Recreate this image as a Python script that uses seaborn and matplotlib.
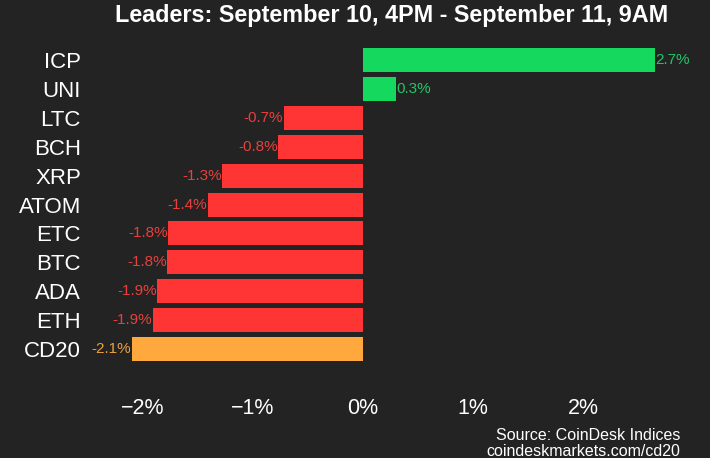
import matplotlib
matplotlib.use("Agg")
import matplotlib.pyplot as plt
import seaborn as sns
import pandas as pd

coins = ["ICP", "UNI", "LTC", "BCH", "XRP", "ATOM", "ETC", "BTC", "ADA", "ETH", "CD20"]
change = [2.65, 0.3, -0.72, -0.77, -1.28, -1.41, -1.77, -1.78, -1.87, -1.91, -2.1]
labels = ["2.7%", "0.3%", "-0.7%", "-0.8%", "-1.3%", "-1.4%", "-1.8%", "-1.8%", "-1.9%", "-1.9%", "-2.1%"]
ticks = [-2, -1, 0, 1, 2]
tick_labels = ["\u22122%", "\u22121%", "0%", "1%", "2%"]

bg = "#232323"
green, red, orange = "#14d95e", "#ff3535", "#ffa83d"
green_txt, red_txt, orange_txt = "#22c466", "#e8403c", "#eaa040"

df = pd.DataFrame({"coin": coins, "change": change, "label": labels})
df["kind"] = ["up" if v > 0 else "down" for v in change]
df.loc[df.coin == "CD20", "kind"] = "index"
palette = {"up": green, "down": red, "index": orange}
txt_col = {"up": green_txt, "down": red_txt, "index": orange_txt}

sns.set_style("dark")
plt.rcParams["font.family"] = ["Liberation Sans", "DejaVu Sans"]

fig = plt.figure(figsize=(7.1, 4.58), dpi=100, facecolor=bg)
ax = fig.add_axes([0.1394, 0.179, 0.86, 0.728])
ax.set_facecolor(bg)

sns.barplot(data=df, y="coin", x="change", hue="kind", palette=palette,
            order=coins, dodge=False, width=0.83, legend=False, ax=ax,
            saturation=1, linewidth=0, edgecolor=bg)

for i, row in df.iterrows():
    v = row["change"]
    ha = "left" if v > 0 else "right"
    ax.text(v + (0.005 if v > 0 else -0.005), i, row["label"], ha=ha, va="center",
            color=txt_col[row["kind"]], fontsize=11)

ax.set_xlim(-2.4, 3.15)
ax.set_ylim(10.93, -0.6)
ax.set_xticks(ticks)
ax.set_xticklabels(tick_labels, color="white", fontsize=15.5)
ax.tick_params(axis="x", length=4, width=1, color="#bbbbbb", direction="out", pad=12)
ax.tick_params(axis="y", length=0, labelsize=16, labelcolor="white", pad=13)
ax.set_xlabel("")
ax.set_ylabel("")
ax.grid(False)
for s in ax.spines.values():
    s.set_visible(False)

fig.text(0.552, 0.967, "Leaders: September 10, 4PM - September 11, 9AM", ha="center",
         va="center", color="white", fontsize=16.8, fontweight="bold")
fig.text(0.958, 0.05, "Source: CoinDesk Indices", ha="right", va="center",
         color="white", fontsize=11.5)
fig.text(0.958, 0.014, "coindeskmarkets.com/cd20", ha="right", va="center",
         color="white", fontsize=11.5)

fig.savefig("out.png", dpi=100, facecolor=bg)
